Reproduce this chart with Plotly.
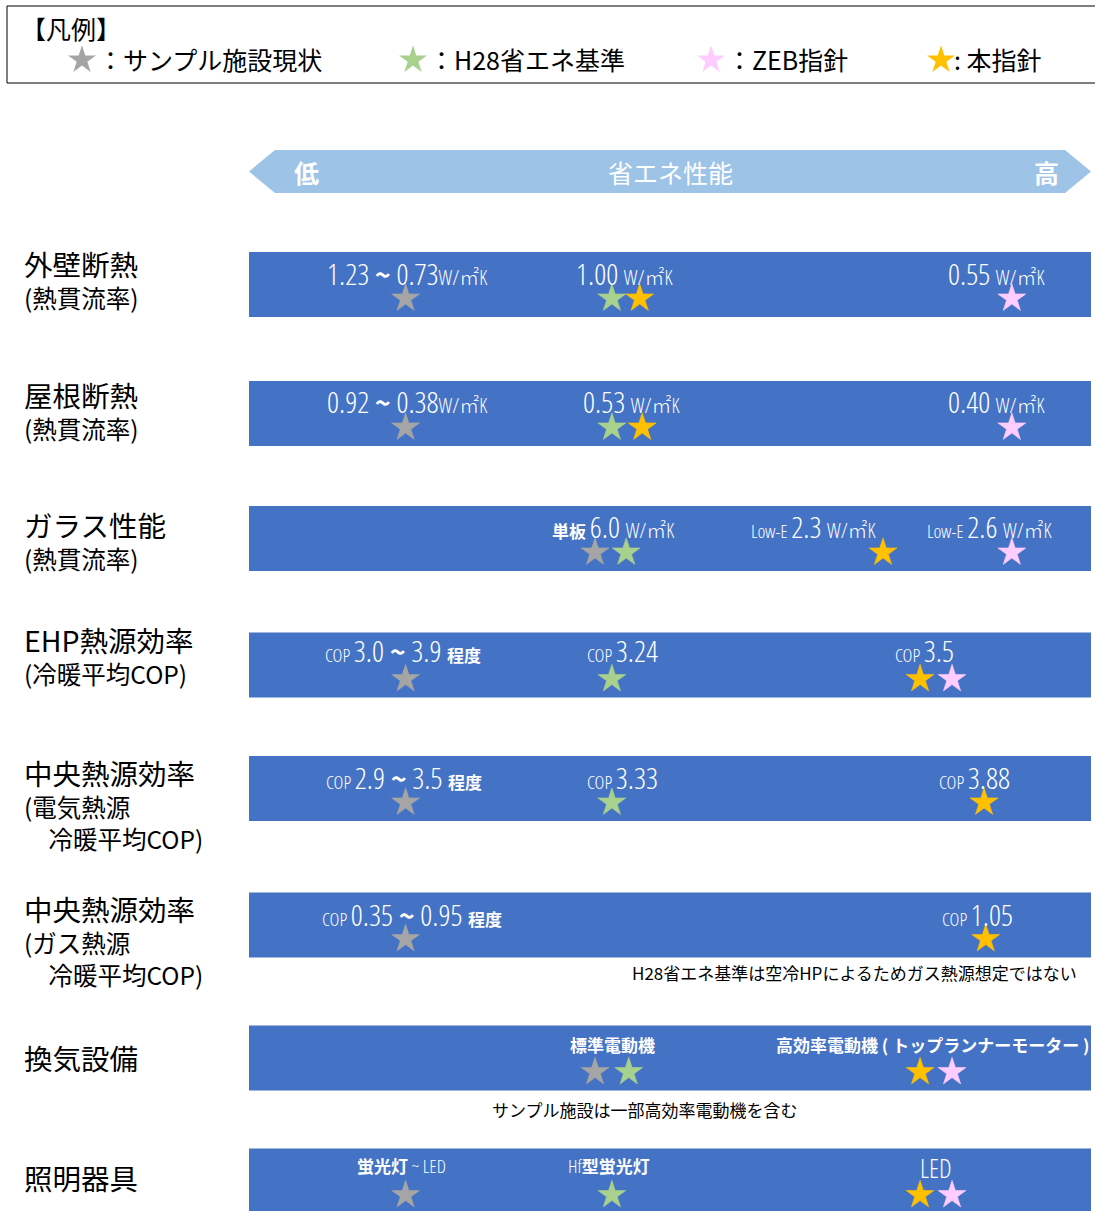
import plotly.graph_objects as go

# ---------------------------------------------------------------- data
ROW_TITLES = ["外壁断熱", "屋根断熱", "ガラス性能", "EHP熱源効率",
              "中央熱源効率", "中央熱源効率", "換気設備", "照明器具"]
ROW_SUBTITLES = [["(熱貫流率)"], ["(熱貫流率)"], ["(熱貫流率)"], ["(冷暖平均COP)"],
                 ["(電気熱源", "\u3000冷暖平均COP)"], ["(ガス熱源", "\u3000冷暖平均COP)"],
                 [], []]

# position of each level on the energy-saving performance scale (0 = low, 100 = high)
SAMPLE_SCORE = [18.6, 18.6, 41.1, 18.6, 18.6, 18.6, 41.1, 18.6]      # サンプル施設現状
H28_SCORE = [43.1, 43.1, 44.8, 43.1, 43.1, None, 45.1, 43.1]         # H28省エネ基準
ZEB_SCORE = [90.6, 90.6, 90.6, 83.5, None, None, 83.5, 83.5]         # ZEB指針
GUIDE_SCORE = [46.4, 46.7, 75.3, 79.7, 87.3, 87.5, 79.7, 79.7]       # 本指針
SCALE_MAX = 100

SERIES_NAMES = ["：サンプル施設現状", "：H28省エネ基準", "：ZEB指針", ": 本指針"]
UNIT = "W/㎡K"

# value texts per row: list of (kind, text) runs
VALUE_TEXTS = [
    [[("n", "1.23 "), ("t", "~"), ("n", " 0.73"), ("u", UNIT)],
     [("n", "1.00 "), ("u", UNIT)], [("n", "0.55 "), ("u", UNIT)]],
    [[("n", "0.92 "), ("t", "~"), ("n", " 0.38"), ("u", UNIT)],
     [("n", "0.53 "), ("u", UNIT)], [("n", "0.40 "), ("u", UNIT)]],
    [[("b", "単板 "), ("n", "6.0 "), ("u", UNIT)],
     [("s", "Low-E "), ("n", "2.3 "), ("u", UNIT)],
     [("s", "Low-E "), ("n", "2.6 "), ("u", UNIT)]],
    [[("s", "COP "), ("n", "3.0 "), ("t", "~"), ("n", " 3.9 "), ("b", "程度")],
     [("s", "COP "), ("n", "3.24")], [("s", "COP "), ("n", "3.5")]],
    [[("s", "COP "), ("n", "2.9 "), ("t", "~"), ("n", " 3.5 "), ("b", "程度")],
     [("s", "COP "), ("n", "3.33")], [("s", "COP "), ("n", "3.88")]],
    [[("s", "COP "), ("n", "0.35 "), ("t", "~"), ("n", " 0.95 "), ("b", "程度")],
     [("s", "COP "), ("n", "1.05")]],
    [[("b", "標準電動機")], [("b", "高効率電動機 ( トップランナーモーター )")]],
    [[("b", "蛍光灯"), ("s", " ~ LED")], [("s", "Hf"), ("b", "型蛍光灯")], [("m", "LED")]],
]
NOTES = ["H28省エネ基準は空冷HPによるためガス熱源想定ではない",
         "サンプル施設は一部高効率電動機を含む"]
AXIS_TEXTS = ["<b>低</b>", "省エネ性能", "<b>高</b>"]

# ---------------------------------------------------------------- layout
W, H = 1095, 1211
X0_PX, PX_PER_UNIT = 249, 8.42          # scale 0..100 spans the band width


def sx(px):
    return (px - X0_PX) / PX_PER_UNIT


BAND_Y = [284.5, 413.5, 538.5, 665, 788.5, 925, 1058, 1181]
BAND_H = 65
STAR_DY = 14
TITLE_Y = [279, 409.5, 539.5, 654.5, 804, 940, 1057, 1177]
LABEL_AT = [
    [(407, 273), (624, 273), (996, 273)],
    [(407, 401), (631, 401), (996, 401)],
    [(613, 526), (814, 526), (990, 526)],
    [(403, 650), (622, 650), (924, 650)],
    [(404, 777), (622, 777), (974, 777)],
    [(412, 914), (977, 914)],
    [(612, 1044), (932, 1044)],
    [(401, 1166), (609, 1166), (936, 1168)],
]

JP = "Noto Sans CJK JP"
NARROW = "Open Sans Condensed Light, Noto Sans CJK JP Light, Noto Sans CJK JP"
BAND_BLUE = "#4472C4"
COLORS = ["#A5A5A5", "#A9D18E", "#FFCCFF", "#FFC000"]
STAR_SIZE = 21


def run(kind, t):
    lite = "font-weight:300"
    if kind == "n":
        return f'<span style="font-size:30px;{lite}">{t}</span>'
    if kind == "u":
        return f'<span style="font-size:20px;{lite}">{t}</span>'
    if kind == "s":
        return f'<span style="font-size:19px;{lite}">{t}</span>'
    if kind == "m":
        return f'<span style="font-size:26px;{lite}">{t}</span>'
    if kind == "t":
        return f'<span style="font-size:27px;font-family:{JP}"><b>{t}</b></span>'
    return f'<span style="font-size:17px;font-family:{JP}"><b>{t}</b></span>'


fig = go.Figure()

# bands
fig.add_trace(go.Bar(
    y=BAND_Y, x=[SCALE_MAX] * len(BAND_Y), base=0, orientation="h",
    width=BAND_H, marker=dict(color=BAND_BLUE, line=dict(width=0)),
    hoverinfo="skip", showlegend=False))

# stars per series
for scores, color, name in zip([SAMPLE_SCORE, H28_SCORE, ZEB_SCORE, GUIDE_SCORE],
                               COLORS, SERIES_NAMES):
    fig.add_trace(go.Scatter(
        x=scores, y=[b + STAR_DY for b in BAND_Y], mode="markers", name=name,
        marker=dict(symbol="star", size=STAR_SIZE, color=color,
                    line=dict(width=0.6, color=color)),
        showlegend=False))

# legend (drawn by hand)
LEG_STAR_PX = [82, 413, 711, 941]
LEG_TEXT_PX = [96, 427, 725, 952]
LEG_Y = 59
for px, color in zip(LEG_STAR_PX, COLORS):
    fig.add_trace(go.Scatter(
        x=[sx(px)], y=[LEG_Y + 1], mode="markers", hoverinfo="skip",
        marker=dict(symbol="star", size=STAR_SIZE, color=color, line=dict(width=0)),
        showlegend=False))

ann = []
ann.append(dict(x=19 / W, xref="paper", y=28, yref="y", text="【凡例】",
                xanchor="left", yanchor="middle", showarrow=False,
                font=dict(family=JP, size=25, color="#000")))
for px, name in zip(LEG_TEXT_PX, SERIES_NAMES):
    ann.append(dict(x=px / W, xref="paper", y=LEG_Y, yref="y", text=name,
                    xanchor="left", yanchor="middle", showarrow=False,
                    font=dict(family=JP, size=25, color="#000")))

shapes = [dict(type="rect", xref="paper", yref="y", x0=7 / W, x1=1.02, y0=6, y1=83,
               line=dict(color="#000", width=1), fillcolor="rgba(0,0,0,0)")]

# performance arrow banner
tip, c0, c1, tip2 = sx(249), sx(275), sx(1065), sx(1091)
yt, ym, yb = 150, 171.5, 193
shapes.append(dict(type="path", xref="x", yref="y",
                   path=f"M{tip},{ym} L{c0},{yt} L{c1},{yt} L{tip2},{ym} L{c1},{yb} L{c0},{yb} Z",
                   fillcolor="#9DC3E6", line=dict(width=0), layer="below"))
for px, t in zip([306, 670, 1046], AXIS_TEXTS):
    ann.append(dict(x=sx(px), y=ym, xref="x", yref="y", text=t, showarrow=False,
                    xanchor="center", yanchor="middle",
                    font=dict(family=JP, size=25, color="#FFFFFF")))

# row titles (title line plus smaller sub-lines in one block)
for title, subs, yc in zip(ROW_TITLES, ROW_SUBTITLES, TITLE_Y):
    lines = [f'<span style="font-size:28.5px">{title}</span>']
    lines += [f'<span style="font-size:24.5px">{s}</span>' for s in subs]
    ann.append(dict(x=22 / W, xref="paper", y=yc, yref="y", text="<br>".join(lines),
                    xanchor="left", yanchor="middle", align="left", showarrow=False,
                    font=dict(family=JP, size=24.5, color="#000")))

# value texts inside the bands
for texts, spots in zip(VALUE_TEXTS, LABEL_AT):
    for runs, (px, py) in zip(texts, spots):
        ann.append(dict(x=sx(px), y=py, xref="x", yref="y",
                        text="".join(run(k, t) for k, t in runs),
                        xanchor="center", yanchor="middle", showarrow=False,
                        font=dict(family=NARROW, size=17, color="#FFFFFF")))

# notes under bands
ann.append(dict(x=sx(1079), y=972, xref="x", yref="y", text=NOTES[0], showarrow=False,
                xanchor="right", yanchor="middle",
                font=dict(family=JP, size=17, color="#000")))
ann.append(dict(x=sx(645), y=1109, xref="x", yref="y", text=NOTES[1], showarrow=False,
                xanchor="center", yanchor="middle",
                font=dict(family=JP, size=17, color="#000")))

fig.update_layout(
    width=W, height=H, margin=dict(l=0, r=0, t=0, b=0),
    paper_bgcolor="#FFFFFF", plot_bgcolor="#FFFFFF",
    xaxis=dict(range=[sx(0), sx(W)], visible=False, fixedrange=True),
    yaxis=dict(range=[H, 0], visible=False, fixedrange=True),
    annotations=ann, shapes=shapes, showlegend=False,
)

fig.write_html("out.html")
